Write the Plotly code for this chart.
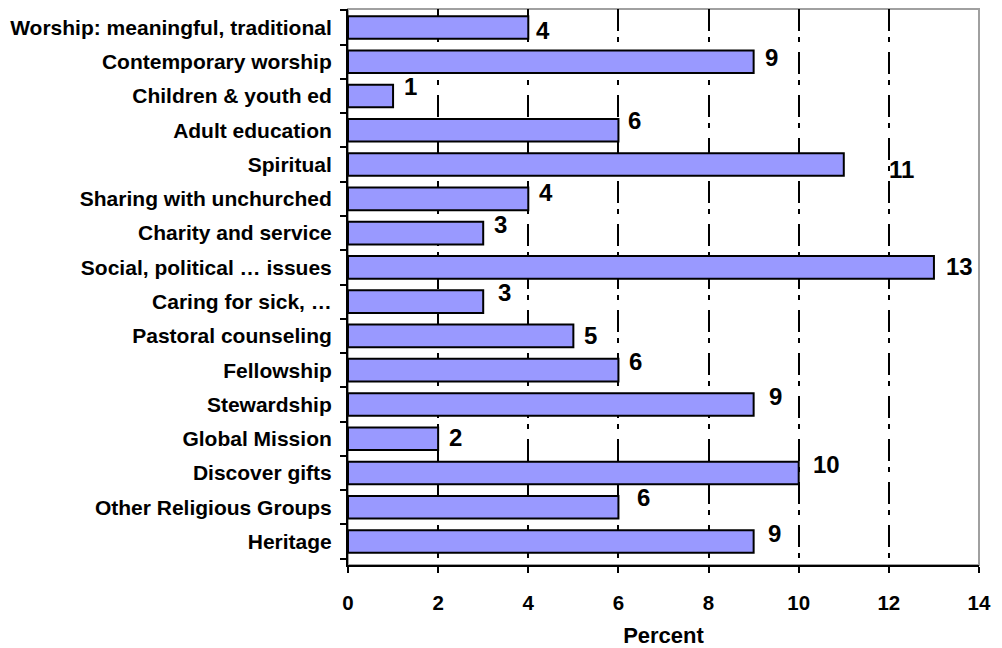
import plotly.graph_objects as go

categories = [
    "Worship: meaningful, traditional",
    "Contemporary worship",
    "Children & youth ed",
    "Adult education",
    "Spiritual",
    "Sharing with unchurched",
    "Charity and service",
    "Social, political … issues",
    "Caring for sick, …",
    "Pastoral counseling",
    "Fellowship",
    "Stewardship",
    "Global Mission",
    "Discover gifts",
    "Other Religious Groups",
    "Heritage",
]
percent = [4, 9, 1, 6, 11, 4, 3, 13, 3, 5, 6, 9, 2, 10, 6, 9]
x_ticks = [0, 2, 4, 6, 8, 10, 12, 14]

# label placement offsets (pixels) as in the original chart
label_dx = [6, 9, 9, 8, 43, 9, 9, 10, 13, 9, 9, 13, 9, 12, 17, 12]
label_dy = [3, -4, -10, -10, 5, -6, -9, -1, -9, 0, -9, -8, -1, -8, -10, -8]

FONT = "Liberation Sans, Arial, sans-serif"

fig = go.Figure()
fig.add_trace(go.Bar(
    y=categories,
    x=percent,
    orientation="h",
    marker=dict(color="#9999FF", line=dict(color="black", width=2)),
    width=0.66,
    hoverinfo="x+y",
))

for c, v, dx, dy in zip(categories, percent, label_dx, label_dy):
    fig.add_annotation(
        x=v, y=c, text=f"<b>{v}</b>", showarrow=False,
        xanchor="left", yanchor="middle", xshift=dx, yshift=-dy,
        font=dict(family=FONT, size=24, color="black"),
    )

# gray plot frame (top & right)
fig.add_shape(type="rect", xref="paper", yref="paper", x0=0, x1=1, y0=0, y1=1,
              line=dict(color="#A0A0A0", width=2), layer="below")

fig.update_layout(
    width=994, height=640,
    margin=dict(l=340, r=23, t=1, b=83, autoexpand=False),
    paper_bgcolor="white", plot_bgcolor="white",
    showlegend=False,
    font=dict(family=FONT, color="black"),
    xaxis=dict(
        range=[0, 14], tickvals=x_ticks, ticktext=[f"<b>{t}</b>" for t in x_ticks],
        ticks="outside", ticklen=6, tickwidth=2, tickcolor="black",
        showline=True, linecolor="black", linewidth=2,
        showgrid=True, gridcolor="black", gridwidth=2,
        griddash="22px,6px,5px,10px",
        zeroline=False, automargin=False,
        tickfont=dict(family=FONT, size=20.5, color="black"),
        ticklabelstandoff=12,
        title=dict(text="<b>Percent</b>", font=dict(family=FONT, size=22, color="black"), standoff=15),
    ),
    yaxis=dict(
        type="category", categoryorder="array", categoryarray=categories,
        autorange="reversed",
        tickmode="array", tickvals=categories,
        ticktext=[f"<b>{c}</b>" for c in categories],
        tickson="boundaries",
        ticks="outside", ticklen=6, tickwidth=2, tickcolor="black",
        showline=True, linecolor="black", linewidth=2,
        showgrid=False, zeroline=False, automargin=False,
        tickfont=dict(family=FONT, size=21, color="black"),
        ticklabelstandoff=10,
    ),
)

fig.write_html("out.html")
